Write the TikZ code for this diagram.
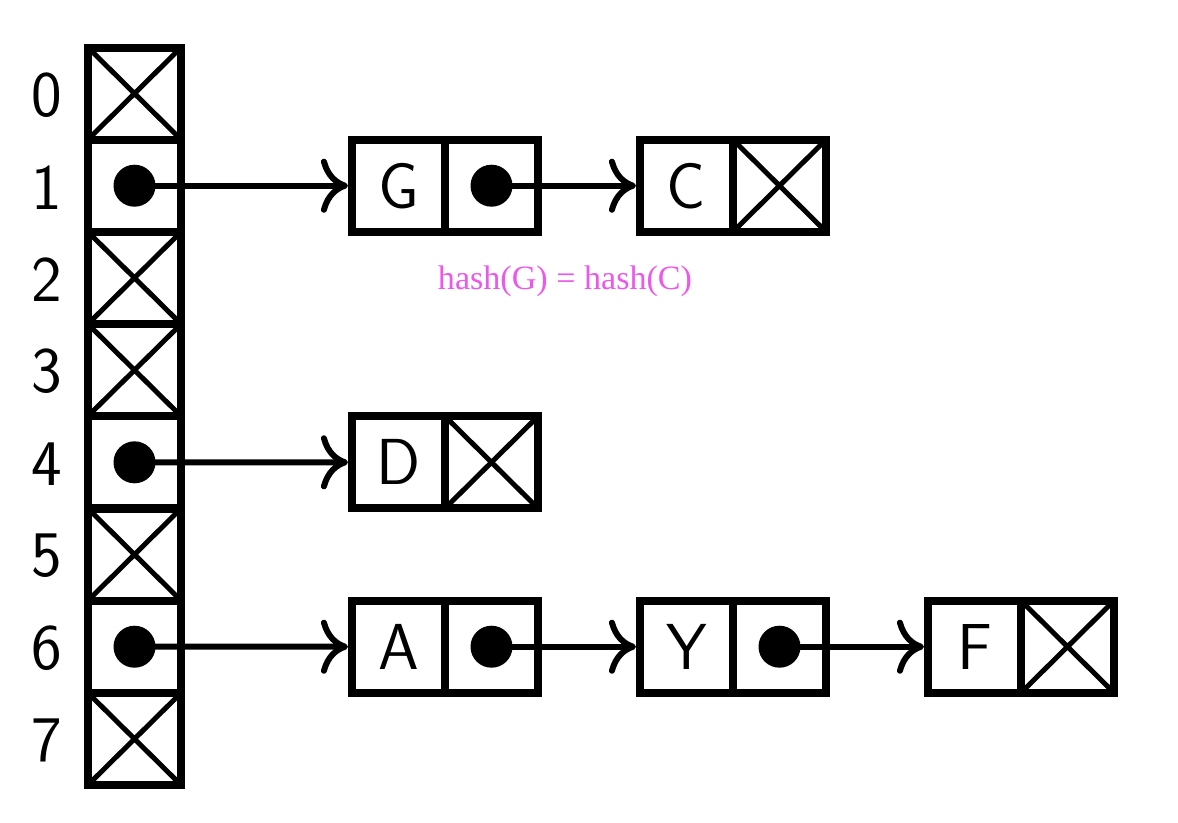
\documentclass[tikz,border=0pt]{standalone}
\usepackage{fontspec}
\newfontfamily\hashfont{Liberation Serif}
\usetikzlibrary{arrows.meta}
\definecolor{hashpink}{RGB}{236,88,236}

\begin{document}
\begin{tikzpicture}[
    cell/.style={draw, line width=2.28pt, minimum width=0.93cm, minimum height=0.92cm,
        inner sep=0pt, font=\fontsize{18.5}{22}\selectfont\sffamily},
    nullcell/.style={cell, path picture={
        \draw[line width=1.42pt] (path picture bounding box.north west) -- (path picture bounding box.south east)
            (path picture bounding box.south west) -- (path picture bounding box.north east);}},
    ptrcell/.style={cell, path picture={\fill (path picture bounding box.center) circle (0.21);}},
    idx/.style={font=\fontsize{18.5}{22}\selectfont\sffamily, inner sep=0pt},
    ptr/.style={line width=1.7pt, -{Computer Modern Rightarrow[length=7.7pt,width=15.4pt]}}
]
\useasboundingbox (0,0) rectangle (11.78,-8.22);

\edef\tx{1.345} 
\edef\lx{0.47} 

% table
\foreach \i/\kind in {0/nullcell,1/ptrcell,2/nullcell,3/nullcell,4/ptrcell,5/nullcell,6/ptrcell,7/nullcell}{
    \node[\kind] (t\i) at (\tx,-0.935-0.922*\i) {};
    \node[idx] (l\i) at (\lx,-0.95-0.922*\i) {\i};
}

% chains
\node[cell] (gkey) at (3.985,-1.857) {G};
\node[ptrcell] (gnext) at (4.915,-1.857) {};
\node[cell] (ckey) at (6.865,-1.857) {C};
\node[nullcell] (cnull) at (7.795,-1.857) {};

\node[cell] (dkey) at (3.985,-4.623) {D};
\node[nullcell] (dnull) at (4.915,-4.623) {};

\node[cell] (akey) at (3.985,-6.467) {A};
\node[ptrcell] (anext) at (4.915,-6.467) {};
\node[cell] (ykey) at (6.865,-6.467) {Y};
\node[ptrcell] (ynext) at (7.795,-6.467) {};
\node[cell] (fkey) at (9.745,-6.467) {F};
\node[nullcell] (fnull) at (10.675,-6.467) {};

\draw[ptr] (t1.center) -- (gkey);
\draw[ptr] (gnext.center) -- (ckey);
\draw[ptr] (t4.center) -- (dkey);
\draw[ptr] (t6.center) -- (akey);
\draw[ptr] (anext.center) -- (ykey);
\draw[ptr] (ynext.center) -- (fkey);

\node[font=\hashfont\fontsize{9.7}{12}\selectfont, text=hashpink] (hashnote) at (5.65,-2.815) {hash(G) = hash(C)};
\end{tikzpicture}
\end{document}
